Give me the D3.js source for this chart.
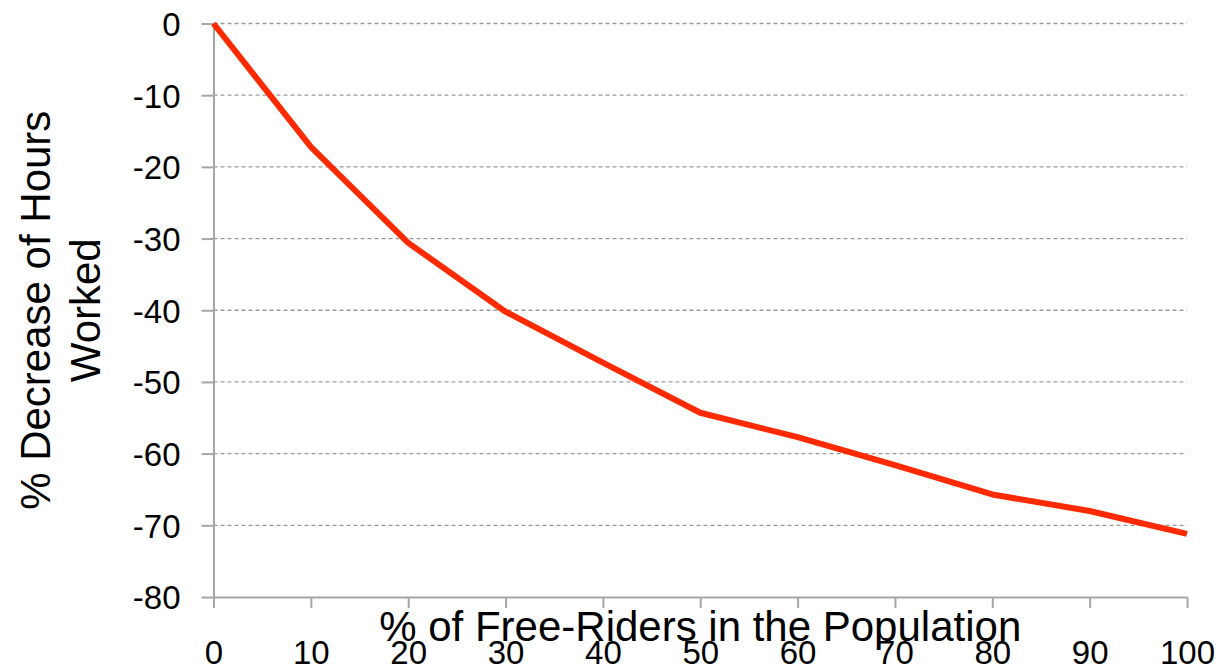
<!DOCTYPE html>
<html>
<head>
<meta charset="utf-8">
<title>Free-riders vs hours worked</title>
<script src="https://cdnjs.cloudflare.com/ajax/libs/d3/7.8.5/d3.min.js"></script>
<style>
	body { margin: 0; background: #fff; }
	text { font-family: "Liberation Sans", Arial, sans-serif; fill: #000; }
</style>
</head>
<body>
<div id="chart"></div>
<script>
// % of free-riders in the population
var freeRiders = [0, 10, 20, 30, 40, 50, 60, 70, 80, 90, 100];
// % decrease of hours worked
var hoursDecrease = [0, -17.2, -30.6, -40.2, -47.3, -54.3, -57.7, -61.6, -65.7, -68.0, -71.2];
var xTicks = [0, 10, 20, 30, 40, 50, 60, 70, 80, 90, 100];
var yTicks = [0, -10, -20, -30, -40, -50, -60, -70, -80];

var width = 1222, height = 669;
var plotLeft = 213.5, plotRight = 1187, plotTop = 23.5, plotBottom = 597;

var svg = d3.select('#chart').append('svg')
	.attr('width', width)
	.attr('height', height);

var x = d3.scaleLinear().domain([0, 100]).range([plotLeft, plotRight]);
var y = d3.scaleLinear().domain([-80, 0]).range([plotBottom, plotTop]);

// plain hyphen for negatives, like the original
var plain = function(d){ return String(d); };

// dashed gridlines
svg.append('g').selectAll('line')
	.data(yTicks.filter(function(d){ return d > -80; }))
	.enter().append('line')
	.attr('x1', plotLeft).attr('x2', plotRight)
	.attr('y1', function(d){ return y(d); })
	.attr('y2', function(d){ return y(d); })
	.attr('stroke', '#9a9a9a')
	.attr('stroke-width', 1.3)
	.attr('stroke-dasharray', '4,3');

// y axis
var yAxis = svg.append('g')
	.attr('transform', 'translate(' + plotLeft + ',0)')
	.call(d3.axisLeft(y).tickValues(yTicks).tickFormat(plain).tickSize(12).tickPadding(21).tickSizeOuter(0));
// x axis
var xAxis = svg.append('g')
	.attr('transform', 'translate(0,' + plotBottom + ')')
	.call(d3.axisBottom(x).tickValues(xTicks).tickFormat(plain).tickSize(11).tickPadding(33).tickSizeOuter(0));

[yAxis, xAxis].forEach(function(ax){
	ax.attr('font-size', 33).attr('font-family', '"Liberation Sans", Arial, sans-serif');
	ax.select('.domain').attr('stroke', '#a6a6a6').attr('stroke-width', 2);
	ax.selectAll('.tick line').attr('stroke', '#a6a6a6').attr('stroke-width', 2);
	ax.selectAll('.tick text').attr('fill', '#000');
});
yAxis.selectAll('.tick text').attr('dy', '0.36em');
xAxis.selectAll('.tick text').attr('dy', '0.71em');

// the line
var line = d3.line()
	.x(function(d, i){ return x(freeRiders[i]); })
	.y(function(d){ return y(d); });

svg.append('path')
	.datum(hoursDecrease)
	.attr('d', line)
	.attr('fill', 'none')
	.attr('stroke', '#ff2a00')
	.attr('stroke-width', 6)
	.attr('stroke-linejoin', 'round');

// axis titles
svg.append('text')
	.attr('x', (plotLeft + plotRight) / 2)
	.attr('y', 641)
	.attr('text-anchor', 'middle')
	.attr('font-size', 42)
	.text('% of Free-Riders in the Population');

var yTitle = svg.append('text')
	.attr('transform', 'translate(0,' + (plotTop + plotBottom) / 2 + ') rotate(-90)')
	.attr('text-anchor', 'middle')
	.attr('font-size', 42);
yTitle.append('tspan').attr('x', 0).attr('y', 50).text('% Decrease of Hours');
yTitle.append('tspan').attr('x', 0).attr('y', 100).text('Worked');
</script>
</body>
</html>
